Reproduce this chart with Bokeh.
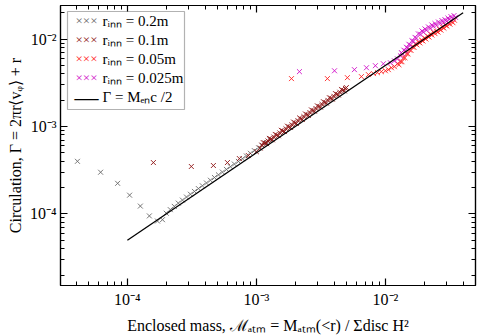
from bokeh.plotting import figure
from bokeh.models import LogAxis, FixedTicker, Range1d, Label, BoxAnnotation
from bokeh.embed import file_html
from bokeh.resources import INLINE

# ---- data ----
# r_inn = 0.2m (grey)
m_02 = [4.1e-5, 6.2e-5, 8.4e-5, 1.04e-4, 1.26e-4, 1.48e-4, 1.71e-4, 1.87e-4,
        2.00e-4, 2.15e-4, 2.31e-4, 2.48e-4, 2.67e-4, 2.87e-4, 3.08e-4, 3.31e-4,
        3.55e-4, 3.81e-4, 4.10e-4, 4.40e-4, 4.73e-4, 5.08e-4, 5.45e-4, 5.86e-4,
        6.29e-4, 6.75e-4, 7.25e-4, 7.79e-4, 8.37e-4, 8.98e-4, 9.64e-4, 1.04e-3,
        1.11e-3, 1.20e-3, 1.28e-3]
g_02 = [4.0e-4, 3.0e-4, 2.24e-4, 1.64e-4, 1.23e-4, 9.5e-5, 8.3e-5, 8.6e-5,
        1.02e-4, 1.12e-4, 1.22e-4, 1.33e-4, 1.44e-4, 1.56e-4, 1.68e-4, 1.81e-4,
        1.95e-4, 2.10e-4, 2.26e-4, 2.43e-4, 2.61e-4, 2.80e-4, 3.01e-4, 3.23e-4,
        3.47e-4, 3.72e-4, 3.99e-4, 4.28e-4, 4.60e-4, 4.94e-4, 5.30e-4, 5.71e-4,
        6.10e-4, 6.58e-4, 7.03e-4]

# r_inn = 0.1m (dark red): outliers + dense band
m_01 = [1.59e-4, 3.13e-4, 4.64e-4, 5.96e-4, 7.38e-4, 8.67e-4, 1.00e-3,
        1.07e-3, 1.13e-3, 1.20e-3, 1.26e-3, 1.33e-3, 1.40e-3, 1.48e-3, 1.56e-3,
        1.65e-3, 1.74e-3, 1.84e-3, 1.94e-3, 2.04e-3, 2.16e-3, 2.27e-3, 2.40e-3,
        2.53e-3, 2.67e-3, 2.82e-3, 2.97e-3, 3.14e-3, 3.31e-3, 3.49e-3, 3.68e-3,
        3.88e-3, 4.10e-3, 4.32e-3, 4.56e-3, 4.81e-3, 4.98e-3,
        1.10e-3, 1.165e-3, 1.23e-3, 1.295e-3, 1.365e-3, 1.44e-3, 1.52e-3, 1.605e-3,
        1.695e-3, 1.79e-3, 1.885e-3, 1.99e-3, 2.10e-3, 2.215e-3, 2.335e-3, 2.465e-3,
        2.60e-3, 2.745e-3, 2.895e-3, 3.055e-3, 3.225e-3, 3.40e-3, 3.585e-3, 3.78e-3,
        3.99e-3, 4.21e-3, 4.44e-3, 4.685e-3, 4.90e-3]
g_01 = [3.87e-4, 3.49e-4, 3.58e-4, 3.87e-4, 4.30e-4, 4.65e-4, 5.15e-4,
        5.67e-4, 6.55e-4, 6.36e-4, 7.31e-4, 7.05e-4, 8.12e-4, 7.84e-4, 9.05e-4,
        8.75e-4, 1.009e-3, 9.75e-4, 1.125e-3, 1.081e-3, 1.253e-3, 1.203e-3, 1.392e-3,
        1.341e-3, 1.549e-3, 1.495e-3, 1.723e-3, 1.664e-3, 1.920e-3, 1.850e-3, 2.134e-3,
        2.056e-3, 2.378e-3, 2.290e-3, 2.645e-3, 2.549e-3, 2.789e-3,
        6.11e-4, 6.47e-4, 6.83e-4, 7.19e-4, 7.58e-4, 7.99e-4, 8.44e-4, 8.91e-4,
        9.41e-4, 9.93e-4, 1.046e-3, 1.104e-3, 1.166e-3, 1.229e-3, 1.296e-3, 1.368e-3,
        1.443e-3, 1.523e-3, 1.607e-3, 1.696e-3, 1.790e-3, 1.887e-3, 1.990e-3, 2.098e-3,
        2.214e-3, 2.337e-3, 2.464e-3, 2.600e-3, 2.720e-3]

# r_inn = 0.05m (red)
m_005 = [1.87e-3, 3.55e-3, 5.07e-3, 6.51e-3, 7.38e-3, 8.07e-3, 8.67e-3, 9.31e-3,
         1.000e-2, 1.054e-2, 1.113e-2, 1.174e-2, 1.239e-2, 1.307e-2, 1.379e-2,
         1.455e-2, 1.535e-2, 1.619e-2, 1.709e-2, 1.803e-2, 1.902e-2, 2.006e-2,
         2.116e-2, 2.233e-2, 2.355e-2, 2.485e-2, 2.622e-2, 2.766e-2, 2.918e-2,
         3.078e-2, 3.248e-2, 3.427e-2,
         1.273e-2, 1.343e-2, 1.417e-2, 1.495e-2, 1.577e-2, 1.664e-2, 1.756e-2,
         1.852e-2, 1.954e-2, 2.060e-2, 2.174e-2, 2.294e-2, 2.420e-2, 2.553e-2,
         2.693e-2, 2.842e-2, 2.998e-2, 3.163e-2, 3.337e-2]
g_005 = [3.53e-3, 3.53e-3, 3.62e-3, 3.72e-3, 3.92e-3, 4.03e-3, 4.13e-3, 4.24e-3,
         4.34e-3, 4.47e-3, 4.70e-3, 4.83e-3, 5.22e-3, 5.50e-3, 6.09e-3,
         6.77e-3, 7.51e-3, 8.13e-3, 8.79e-3, 9.25e-3, 9.75e-3, 1.026e-2,
         1.081e-2, 1.138e-2, 1.199e-2, 1.231e-2, 1.297e-2, 1.367e-2, 1.440e-2,
         1.518e-2, 1.596e-2, 1.641e-2,
         5.09e-3, 5.51e-3, 6.11e-3, 6.78e-3, 7.43e-3, 8.04e-3, 8.57e-3,
         9.03e-3, 9.50e-3, 1.001e-2, 1.054e-2, 1.110e-2, 1.154e-2, 1.201e-2,
         1.265e-2, 1.333e-2, 1.405e-2, 1.479e-2, 1.538e-2]

# r_inn = 0.025m (magenta)
m_0025 = [2.155e-3, 4.03e-3, 5.75e-3, 7.13e-3, 8.36e-3, 9.64e-3, 1.093e-2,
          1.174e-2, 1.239e-2, 1.307e-2, 1.355e-2, 1.429e-2, 1.483e-2, 1.563e-2,
          1.649e-2, 1.740e-2, 1.867e-2, 1.971e-2, 2.080e-2, 2.233e-2, 2.355e-2,
          2.485e-2, 2.667e-2, 2.815e-2, 2.970e-2, 3.133e-2, 3.306e-2, 3.490e-2,
          1.330e-2, 1.390e-2, 1.456e-2, 1.520e-2, 1.605e-2, 1.695e-2, 1.800e-2,
          1.920e-2, 2.025e-2, 2.155e-2, 2.290e-2, 2.420e-2, 2.575e-2, 2.740e-2,
          2.890e-2, 3.050e-2, 3.220e-2, 3.400e-2]
g_0025 = [4.24e-3, 4.34e-3, 4.47e-3, 4.70e-3, 4.96e-3, 5.22e-3, 5.36e-3,
          5.64e-3, 5.94e-3, 6.43e-3, 6.77e-3, 7.31e-3, 7.90e-3, 8.55e-3,
          9.48e-3, 1.026e-2, 1.138e-2, 1.199e-2, 1.265e-2, 1.331e-2, 1.403e-2,
          1.440e-2, 1.518e-2, 1.556e-2, 1.596e-2, 1.683e-2, 1.726e-2, 1.774e-2,
          7.00e-3, 7.46e-3, 8.06e-3, 8.72e-3, 9.56e-3, 1.046e-2, 1.147e-2,
          1.239e-2, 1.306e-2, 1.376e-2, 1.449e-2, 1.505e-2, 1.568e-2, 1.629e-2,
          1.671e-2, 1.738e-2, 1.807e-2, 1.855e-2]

# Gamma = M_enc / 2
line_m = [1.0e-4, 4.0e-2]
line_g = [5.0e-5, 2.0e-2]

x_ticks = [1e-4, 1e-3, 1e-2]
x_tick_labels = ["10⁻⁴", "10⁻³", "10⁻²"]
y_ticks = [1e-4, 1e-3, 1e-2]
y_tick_labels = ["10⁻⁴", "10⁻³", "10⁻²"]

labels = ["rᵢₙₙ = 0.2m", "rᵢₙₙ = 0.1m", "rᵢₙₙ = 0.05m", "rᵢₙₙ = 0.025m", "Γ = Mₑₙc /2"]
colors = ["#686868", "#8e1414", "#ff2020", "#d010c8"]
legend_symbols = ["×××", "×××", "×××", "×××", "—"]
legend_symbol_colors = colors + ["black"]

FONT = "Liberation Serif"

# minor ticks for log axes
minor_x = [k * 10.0 ** e for e in range(-6, 0) for k in range(2, 10)]
minor_y = [k * 10.0 ** e for e in range(-6, 0) for k in range(2, 10)]

p = figure(width=480, height=336, x_axis_type="log", y_axis_type="log",
           x_range=Range1d(3.03e-5, 0.0499), y_range=Range1d(1.52e-5, 0.0242),
           output_backend="svg", toolbar_location=None,
           min_border_left=60, min_border_right=5, min_border_top=4, min_border_bottom=49)
p.xgrid.visible = False
p.ygrid.visible = False
p.outline_line_color = "black"
p.outline_line_width = 1.2
p.background_fill_color = "white"
p.border_fill_color = "white"

MS = 7
LW = 0.9
p.scatter(m_02, g_02, marker="x", size=MS, line_color=colors[0], line_width=LW)
p.scatter(m_01, g_01, marker="x", size=MS, line_color=colors[1], line_width=LW)
p.scatter(m_005, g_005, marker="x", size=MS, line_color=colors[2], line_width=LW)
p.scatter(m_0025, g_0025, marker="x", size=MS, line_color=colors[3], line_width=LW)
p.line(line_m, line_g, line_color="black", line_width=1.3)


def style_axis(ax, ticks, tick_labels, minor, show_labels=True):
    ax.ticker = FixedTicker(ticks=ticks, minor_ticks=minor)
    ax.major_tick_in = 7
    ax.major_tick_out = 0
    ax.minor_tick_in = 4
    ax.minor_tick_out = 0
    ax.axis_line_color = "black"
    ax.axis_line_width = 1.2
    ax.major_tick_line_width = 1.2
    ax.minor_tick_line_width = 1
    if show_labels:
        ax.major_label_overrides = {t: l for t, l in zip(ticks, tick_labels)}
        ax.major_label_text_font = FONT
        ax.major_label_text_font_size = "16px"
        ax.major_label_text_color = "black"
        ax.major_label_standoff = 4
        ax.axis_label_text_font = FONT
        ax.axis_label_text_font_size = "16px"
        ax.axis_label_text_font_style = "normal"
        ax.axis_label_text_color = "black"
    else:
        ax.major_label_overrides = {t: " " for t in ticks}
        ax.major_label_text_font_size = "2px"
        ax.major_label_standoff = 0


style_axis(p.xaxis[0], x_ticks, x_tick_labels, minor_x)
style_axis(p.yaxis[0], y_ticks, y_tick_labels, minor_y)
p.xaxis[0].major_label_standoff = 5
p.xaxis[0].axis_label = "Enclosed mass, ℳₐₜₘ = Mₐₜₘ(<r) / Σdisc H²"
p.yaxis[0].axis_label = "Circulation, Γ = 2πr⟨vᵩ⟩ + r"
p.xaxis[0].axis_label_standoff = 6
p.yaxis[0].axis_label_standoff = 3

top_ax = LogAxis()
style_axis(top_ax, x_ticks, x_tick_labels, minor_x, show_labels=False)
p.add_layout(top_ax, "above")
right_ax = LogAxis()
style_axis(right_ax, y_ticks, y_tick_labels, minor_y, show_labels=False)
p.add_layout(right_ax, "right")

# ---- legend box drawn in screen units, relative to the plot frame ----
FRAME_H = 283          # frame height in px
box_left, box_right, box_top, box_bottom = 7, 124, 9, 107   # px from frame top-left
p.add_layout(BoxAnnotation(left=box_left, right=box_right,
                           top=FRAME_H - box_top, bottom=FRAME_H - box_bottom,
                           left_units="screen", right_units="screen",
                           top_units="screen", bottom_units="screen",
                           fill_color="white", fill_alpha=1.0,
                           line_color="black", line_width=1.2, level="overlay"))
row_h = 19
first_row = 18
for i, (sym, scol, lab) in enumerate(zip(legend_symbols, legend_symbol_colors, labels)):
    yy = FRAME_H - (first_row + i * row_h)
    p.add_layout(Label(x=26, y=yy, x_units="screen", y_units="screen", text=sym,
                       text_color=scol,
                       text_font_size="13px" if sym != "—" else "24px",
                       text_font=FONT, text_align="center", text_baseline="middle",
                       level="overlay"))
    p.add_layout(Label(x=42, y=yy, x_units="screen", y_units="screen", text=lab,
                       text_color="black", text_font_size="15px", text_font=FONT,
                       text_align="left", text_baseline="middle", level="overlay"))

open("out.html", "w").write(file_html(p, INLINE))
